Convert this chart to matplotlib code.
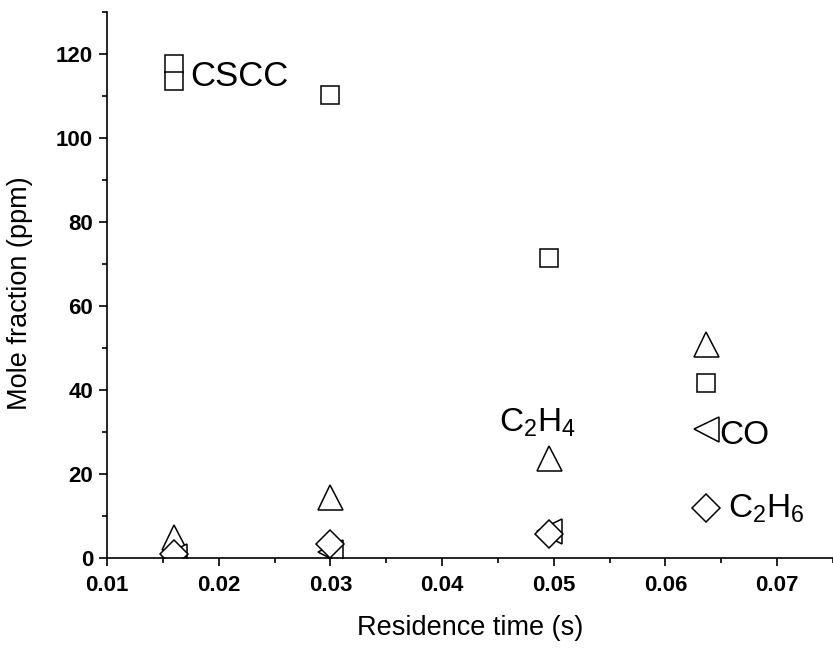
import numpy as np
import matplotlib
matplotlib.use('Agg')
import matplotlib.pyplot as plt
from matplotlib.ticker import MultipleLocator

plt.rcParams['font.family'] = ['Liberation Sans', 'DejaVu Sans']
plt.rcParams['mathtext.default'] = 'regular'

# residence times (s)
t = [0.016, 0.030, 0.0496, 0.0636]
# mole fractions (ppm)
cscc_t = [0.016, 0.016, 0.030, 0.0496, 0.0636]
cscc = [117.5, 113.5, 110.2, 71.5, 41.7]
c2h4 = [5.0, 14.5, 23.8, 51.0]
co = [0.5, 1.5, 6.5, 30.8]
c2h6 = [1.0, 3.4, 5.6, 11.8]

fig = plt.figure(figsize=(8.33, 6.48), dpi=100)
ax = fig.add_axes([0.1285, 0.139, 0.8715, 0.8426])

mk = dict(linestyle='none', markerfacecolor='white', markeredgecolor='black',
          markeredgewidth=1.1)
ax.plot(cscc_t, cscc, marker='s', markersize=12.5, **mk)
ax.plot(t, c2h4, marker='^', markersize=18, **mk)
ax.plot(t, co, marker='<', markersize=18, **mk)
ax.plot(t, c2h6, marker='D', markersize=14, **mk)

# labels next to the series
ax.annotate('CSCC', xy=(cscc_t[0], np.mean(cscc[:2])), xytext=(11.5, -9.5),
            textcoords='offset points', fontsize=25, va='baseline', ha='left')
ax.annotate('C$_2$H$_4$', xy=(t[2], c2h4[2]), xytext=(-36, 19),
            textcoords='offset points', fontsize=24, va='baseline', ha='left')
ax.annotate('CO', xy=(t[3], co[3]), xytext=(10, -11),
            textcoords='offset points', fontsize=24, va='baseline', ha='left')
ax.annotate('C$_2$H$_6$', xy=(t[3], c2h6[3]), xytext=(16, -7),
            textcoords='offset points', fontsize=24, va='baseline', ha='left')

ax.set_xlim(0.01, 0.075)
ax.set_ylim(0, 130)
ax.xaxis.set_major_locator(MultipleLocator(0.01))
ax.xaxis.set_minor_locator(MultipleLocator(0.005))
ax.yaxis.set_major_locator(MultipleLocator(20))
ax.yaxis.set_minor_locator(MultipleLocator(10))
ax.set_xticks(np.arange(0.01, 0.0701, 0.01))
ax.set_xticklabels(['0.01', '0.02', '0.03', '0.04', '0.05', '0.06', '0.07'])

for s in ['top', 'right']:
    ax.spines[s].set_visible(False)
for s in ['left', 'bottom']:
    ax.spines[s].set_linewidth(1.2)

ax.tick_params(which='major', direction='out', length=6, width=1.2, labelsize=16)
ax.tick_params(which='minor', direction='out', length=3.5, width=1.2)
ax.tick_params(axis='x', which='major', pad=6)
ax.tick_params(axis='y', which='major', pad=4)
for lab in ax.get_xticklabels() + ax.get_yticklabels():
    lab.set_fontweight('bold')

ax.set_xlabel('Residence time (s)', fontsize=19.5)
ax.set_ylabel('Mole fraction (ppm)', fontsize=19.5)
ax.xaxis.set_label_coords(0.5, -0.105)
ax.yaxis.set_label_coords(-0.102, 0.485)

fig.savefig('out.png', dpi=100)
